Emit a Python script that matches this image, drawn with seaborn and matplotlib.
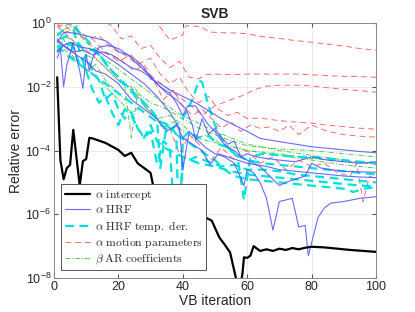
import numpy as np
import matplotlib
matplotlib.use("Agg")
import matplotlib.pyplot as plt
import seaborn as sns
from matplotlib.ticker import NullLocator, FixedLocator

# all series in log10(relative error) vs VB iteration
intercept_x = [1, 2, 3, 4, 5, 6, 8, 9, 10, 11, 12, 16, 20, 22, 24, 26, 28, 30, 31, 34, 38, 42, 45.6, 47, 49,
               51, 51.5, 53, 54.7, 56.5, 57.5, 58.5, 59, 60, 61, 62, 64, 66, 68, 70, 72, 74, 76, 78, 80, 84,
               88, 92, 96, 100]
intercept_y = [-1.7, -4.3, -4.9, -4.55, -4.45, -3.35, -5.1, -4.33, -4.27, -3.6, -3.62, -3.76, -3.98, -4.17,
               -4.07, -4.4, -4.55, -4.7, -5.2, -5.4, -5.6, -5.75, -5.9, -6.1, -6.2, -6.65, -6.75, -6.95, -7.2,
               -8.0, -8.4, -7.9, -7.35, -7.37, -7.3, -7.0, -7.15, -7.1, -7.15, -7.08, -7.12, -7.06, -7.1, -7.05,
               -7.02, -7.04, -7.08, -7.12, -7.15, -7.18]

hrf_x = [
    [1, 2, 3, 5, 8, 10, 12, 14, 16, 18, 20, 23, 26, 28, 30, 33, 36, 40, 44, 48, 52, 56, 60, 64, 70, 75, 80,
     85, 90, 95, 100],
    [1, 2, 3, 4, 5, 6, 7, 8, 9, 10, 11, 12, 14, 17, 20, 23, 26, 29, 32, 35, 38, 41, 43, 44, 46, 48, 50, 52,
     54, 56, 58, 60, 63, 66, 70, 75, 80, 85, 90, 95, 100],
    [1, 3, 5, 8, 11, 14, 17, 20, 24, 28, 32, 36, 39, 40, 42, 44, 47, 50, 53, 56, 59, 60, 62, 64, 66, 68, 70,
     72, 74, 76, 78, 79, 80, 82, 84, 86, 90, 95, 100],
    [1, 3, 6, 9, 12, 15, 18, 21, 24, 27, 30, 33, 36, 38, 40, 41.5, 44, 46, 48, 50, 52, 54, 56, 58, 60, 62,
     64, 66, 68, 70, 72, 75, 78, 80, 83, 86, 90, 95, 100],
    [1, 4, 7, 10, 13, 16, 20, 24, 28, 32, 35, 38, 40, 43, 46, 48.5, 51, 54, 57, 60, 63, 66, 70, 75, 80, 85,
     90, 95, 100],
]
hrf_y = [
    [-0.6, -0.45, -0.3, -0.3, -0.35, -0.4, -0.45, -0.5, -0.55, -0.7, -0.9, -1.0, -1.2, -1.4, -1.75, -1.9,
     -2.1, -2.3, -2.5, -2.75, -3.0, -3.2, -3.4, -3.62, -3.72, -3.8, -3.88, -3.93, -3.98, -4.03, -4.07],
    [-1.1, -0.8, -2.0, -1.3, -1.0, -0.6, -1.1, -1.5, -2.05, -1.0, -1.5, -1.1, -0.75, -0.7, -0.8, -1.0, -1.3,
     -1.55, -1.9, -2.2, -2.4, -2.7, -3.2, -3.7, -3.0, -3.5, -3.3, -3.6, -3.8, -3.7, -4.2, -4.1, -4.2, -4.25,
     -4.3, -4.35, -4.2, -4.3, -4.35, -4.4, -4.35],
    [-0.9, -0.7, -0.6, -0.75, -0.8, -0.9, -1.1, -1.3, -1.6, -1.9, -2.3, -2.8, -3.3, -4.6, -3.4, -3.6, -3.9,
     -4.1, -4.2, -4.4, -5.1, -4.6, -4.7, -5.0, -5.5, -6.5, -5.6, -5.55, -5.5, -6.4, -6.35, -7.3, -6.9, -6.1,
     -5.8, -5.65, -5.6, -5.5, -5.45],
    [-0.5, -0.7, -0.9, -0.85, -1.0, -0.9, -1.0, -1.2, -1.4, -1.5, -1.7, -2.0, -2.2, -2.5, -2.9, -2.6, -2.6,
     -2.9, -3.2, -3.4, -3.7, -3.9, -4.0, -4.2, -4.3, -4.4, -4.5, -4.7, -4.9, -5.1, -5.0, -4.9, -4.8, -4.4,
     -4.55, -4.6, -4.65, -4.67, -4.68],
    [-0.55, -0.8, -1.0, -1.2, -1.5, -1.6, -1.9, -2.4, -2.7, -3.0, -3.4, -3.2, -3.6, -3.8, -4.0, -4.45, -4.1,
     -4.2, -4.3, -4.4, -4.45, -4.5, -4.6, -4.65, -4.7, -4.75, -4.8, -4.83, -4.85],
]

der_x = [
    [4, 6, 8, 10, 12, 14, 16, 18, 20, 22, 24, 26, 28, 30, 32, 34, 36, 37, 38, 40, 44, 48, 52, 56, 60, 65, 70,
     75, 80, 85, 90, 95, 100],
    [1, 3, 5, 7, 9, 12, 15, 18, 21, 24, 27, 30, 33, 36, 38, 39, 40, 42, 45, 48, 51, 54, 57, 59, 61, 65, 70,
     75, 80, 85, 90, 95, 100],
    [1, 3, 5, 8, 11, 14, 17, 20, 23, 26, 29, 32, 33, 35, 38, 41, 44, 47, 50, 53, 56, 60, 65, 70, 75, 80, 85,
     90, 93, 96, 100],
    [1, 4, 8, 12, 16, 20, 24, 28, 32, 36, 40, 43, 45, 46, 48, 50, 52, 54, 56, 60, 65, 70, 75, 80, 85, 90, 95,
     100],
    [2, 4, 6, 8, 10, 12, 14, 16, 18, 20, 22, 24, 26, 28, 30, 32, 34, 36, 40, 45, 50, 55, 60, 65, 70, 75, 80,
     85, 90, 95, 100],
]
der_y = [
    [0.2, -0.2, -0.9, -1.5, -2.1, -2.5, -2.3, -2.8, -3.2, -2.7, -2.9, -3.3, -3.6, -3.4, -4.4, -3.7, -3.9,
     -5.5, -7.0, -4.4, -4.2, -4.35, -4.5, -4.45, -4.6, -4.6, -4.65, -4.75, -4.8, -4.85, -4.9, -4.95, -5.0],
    [-0.9, -0.6, -0.7, -0.55, -0.8, -0.85, -1.1, -1.5, -1.85, -2.1, -2.4, -2.7, -3.1, -3.2, -3.5, -7.5, -3.6,
     -3.4, -3.6, -3.55, -3.8, -3.9, -4.2, -5.55, -4.2, -4.1, -4.15, -4.2, -4.2, -4.25, -4.3, -4.35, -4.4],
    [-0.4, -0.2, 0.1, -0.3, -0.6, -1.0, -1.4, -1.7, -2.0, -2.4, -2.6, -3.0, -4.55, -3.2, -3.5, -3.7, -3.9,
     -4.1, -4.3, -4.6, -4.8, -4.9, -4.95, -5.0, -5.05, -5.1, -5.15, -5.2, -5.3, -5.2, -5.15],
    [-0.7, -1.0, -1.3, -1.6, -1.9, -2.2, -2.5, -2.8, -3.1, -3.4, -3.0, -2.4, -1.8, -1.85, -2.6, -3.2, -3.6,
     -3.9, -4.1, -4.3, -4.4, -4.45, -4.5, -4.55, -4.6, -4.65, -4.7, -4.75],
    [-0.5, -0.4, -0.8, -1.3, -1.0, -1.5, -1.8, -2.4, -2.2, -2.7, -3.0, -2.8, -3.3, -3.6, -3.2, -3.7, -3.9,
     -4.0, -4.2, -4.4, -4.5, -4.65, -4.75, -4.8, -4.85, -4.9, -4.95, -5.0, -5.05, -5.1, -5.12],
]

motion_x = [
    [1, 4, 8, 12, 16, 20, 24, 28, 32, 36, 40, 41, 44, 46, 48, 52, 56, 60, 64, 70, 75, 80, 85, 90, 95, 100],
    [1, 3, 6, 9, 12, 15, 18, 21, 24, 27, 30, 33, 36, 39, 42, 45, 47, 50, 55, 60, 65, 70, 75, 80, 85, 90, 95,
     100],
    [1, 4, 8, 12, 16, 20, 24, 28, 32, 36, 40, 44, 46, 50, 55, 59, 62, 66, 70, 75, 80, 85, 90, 95, 100],
    [1, 5, 10, 14, 18, 22, 26, 30, 33, 36, 39, 42, 45, 48, 51, 54, 57, 60, 64, 69, 74, 80, 85, 90, 95, 100],
    [1, 5, 10, 15, 20, 25, 28, 31, 34, 37, 40, 43, 46, 49, 52, 55, 58, 61, 64, 67, 70, 73, 76, 80, 85, 90,
     95, 100],
    [1, 4, 8, 12, 16, 20, 24, 28, 32, 36, 39, 42, 45, 48, 52, 56, 60, 64, 68, 72, 76, 80, 84, 88, 92, 94,
     96, 98, 100],
]
motion_y = [
    [0.0, 0.1, 0.2, 0.1, 0.2, 0.1, 0.2, 0.1, 0.0, -0.53, -0.38, -0.08, -0.1, -0.12, -0.28, -0.3, -0.31,
     -0.33, -0.42, -0.48, -0.55, -0.6, -0.66, -0.72, -0.8, -0.85],
    [-0.1, -0.3, -0.2, 0.1, 0.2, 0.1, -0.1, -0.5, -0.4, -0.8, -0.7, -1.1, -1.4, -1.2, -1.7, -1.75, -1.62,
     -1.6, -1.62, -1.6, -1.6, -1.6, -1.6, -1.62, -1.65, -1.67, -1.68, -1.7],
    [0.1, 0.0, -0.3, -0.5, -0.9, -1.2, -1.0, -1.5, -1.8, -2.1, -2.4, -2.7, -2.9, -2.6, -2.4, -2.26, -2.1,
     -1.98, -1.95, -1.95, -1.97, -2.03, -2.08, -2.12, -2.17],
    [0.1, -0.2, -0.5, -0.4, -0.8, -1.0, -1.3, -1.1, -1.6, -1.9, -1.7, -2.2, -2.5, -2.3, -2.7, -2.9, -2.8,
     -3.0, -2.98, -3.05, -3.1, -3.14, -3.2, -3.25, -3.3, -3.33],
    [-0.1, 0.0, -0.6, -0.9, -1.1, -1.5, -1.3, -1.8, -2.4, -2.1, -2.6, -2.9, -2.7, -3.0, -3.3, -3.1, -3.4,
     -3.2, -3.3, -3.26, -3.4, -3.2, -3.5, -3.2, -3.4, -3.5, -3.55, -3.58],
    [0.0, -0.4, -0.7, -1.0, -1.4, -1.8, -2.0, -2.6, -3.0, -3.3, -4.1, -3.5, -3.8, -4.4, -3.9, -4.3, -4.0,
     -4.4, -4.2, -4.6, -4.3, -4.5, -4.4, -4.7, -4.8, -4.4, -5.6, -4.8, -4.9],
]

ar_x = [
    [1, 3, 5, 8, 10, 14, 18, 22, 24, 26, 30, 35, 40, 45, 50, 55, 60, 70, 80, 90, 100],
    [1, 4, 8, 12, 16, 20, 24, 28, 32, 36, 40, 44, 48, 52, 56, 60, 70, 80, 90, 100],
    [1, 3, 6, 9, 12, 15, 18, 22, 26, 30, 34, 38, 42, 46, 50, 55, 60, 70, 80, 90, 100],
    [1, 3, 5, 7, 10, 13, 16, 19, 22, 25, 28, 31, 34, 37, 40, 44, 48, 52, 56, 60, 70, 80, 90, 100],
]
ar_y = [
    [-0.3, -0.4, -0.5, -0.7, -1.0, -1.2, -1.6, -2.0, -3.6, -2.2, -2.5, -2.7, -3.0, -3.3, -3.5, -3.7, -3.85,
     -3.95, -4.0, -4.1, -4.2],
    [-0.6, -0.9, -1.3, -1.6, -2.0, -2.4, -2.8, -2.6, -3.0, -2.9, -3.2, -3.6, -3.5, -3.8, -3.9, -4.0, -4.15,
     -4.3, -4.45, -4.55],
    [-0.4, -0.2, -0.1, -0.5, -0.8, -1.1, -1.3, -1.6, -1.9, -2.2, -2.5, -2.8, -3.0, -3.2, -3.4, -3.6, -3.8,
     -4.0, -4.15, -4.3, -4.45],
    [-0.8, -0.5, -0.9, -1.2, -1.5, -1.3, -1.8, -2.1, -2.4, -2.0, -2.6, -2.9, -3.3, -3.1, -3.4, -3.6, -3.7,
     -3.8, -3.9, -4.0, -4.1, -4.25, -4.35, -4.4],
]

sns.set_style("ticks")
plt.rcParams['font.family'] = ['Liberation Sans', 'DejaVu Sans']
plt.rcParams['mathtext.fontset'] = 'cm'

fig, ax = plt.subplots(figsize=(4.15, 3.12), dpi=100)
fig.subplots_adjust(left=0.130, right=0.906, bottom=0.109, top=0.926)

handles = []

# motion parameters (red, thin dashed)
for i, (xs, ys) in enumerate(zip(motion_x, motion_y)):
    sns.lineplot(x=xs, y=10 ** np.array(ys), ax=ax, color='#ff5050', lw=0.7, alpha=0.85,
                 linestyle=(0, (6, 4)))
    if i == 0:
        handles.append(ax.lines[-1])

# AR coefficients (green, dash-dot)
for i, (xs, ys) in enumerate(zip(ar_x, ar_y)):
    sns.lineplot(x=xs, y=10 ** np.array(ys), ax=ax, color='#3cc83c', lw=0.7, alpha=0.9,
                 linestyle=(0, (5, 2, 1, 2)))
    if i == 0:
        handles.append(ax.lines[-1])

# HRF temporal derivative (cyan, thick dashed)
for i, (xs, ys) in enumerate(zip(der_x, der_y)):
    sns.lineplot(x=xs, y=10 ** np.array(ys), ax=ax, color='#00e0e0', lw=1.6,
                 linestyle=(0, (4, 2.5)))
    if i == 0:
        handles.append(ax.lines[-1])

# HRF (blue, thin solid)
for i, (xs, ys) in enumerate(zip(hrf_x, hrf_y)):
    sns.lineplot(x=xs, y=10 ** np.array(ys), ax=ax, color='#5050ff', lw=0.8, alpha=0.85)
    if i == 0:
        handles.append(ax.lines[-1])

# intercept (black, thick)
sns.lineplot(x=intercept_x, y=10 ** np.array(intercept_y), ax=ax, color='black', lw=1.6)
handles.append(ax.lines[-1])

ax.set_yscale('log')
ax.set_xlim(0, 100)
ax.set_ylim(1e-8, 1)
ax.set_xticks([0, 20, 40, 60, 80, 100])
ax.yaxis.set_major_locator(FixedLocator([1e-8, 1e-6, 1e-4, 1e-2, 1]))
ax.yaxis.set_minor_locator(NullLocator())
ax.grid(True, color='#e6e6e6', lw=0.6)
ax.set_axisbelow(True)
ax.tick_params(direction='in', top=True, right=True, labelsize=9, length=3, color='#555555',
               labelcolor='#262626', pad=2)
for s in ax.spines.values():
    s.set_color('#888888')
    s.set_linewidth(0.7)

ax.set_xlabel('VB iteration', fontsize=10, color='#262626', labelpad=1)
ax.set_ylabel('Relative error', fontsize=10, color='#262626', labelpad=2)
ax.set_title('SVB', fontsize=10, fontweight='bold', pad=4)

labels = [r'$\alpha\ \mathrm{intercept}$', r'$\alpha\ \mathrm{HRF}$',
          r'$\alpha\ \mathrm{HRF\ temp.\ der.}$', r'$\alpha\ \mathrm{motion\ parameters}$',
          r'$\beta\ \mathrm{AR\ coefficients}$']
order = [4, 3, 2, 0, 1]
leg = ax.legend([handles[k] for k in order], labels, loc='lower left', bbox_to_anchor=(0.022, 0.031),
                fontsize=8.4, frameon=True, fancybox=False, framealpha=1, edgecolor='#555555',
                handlelength=2.2, handletextpad=0.4, labelspacing=0.2, borderpad=0.3,
                borderaxespad=0)
leg.get_frame().set_linewidth(0.7)

fig.savefig('out.png', dpi=100)
